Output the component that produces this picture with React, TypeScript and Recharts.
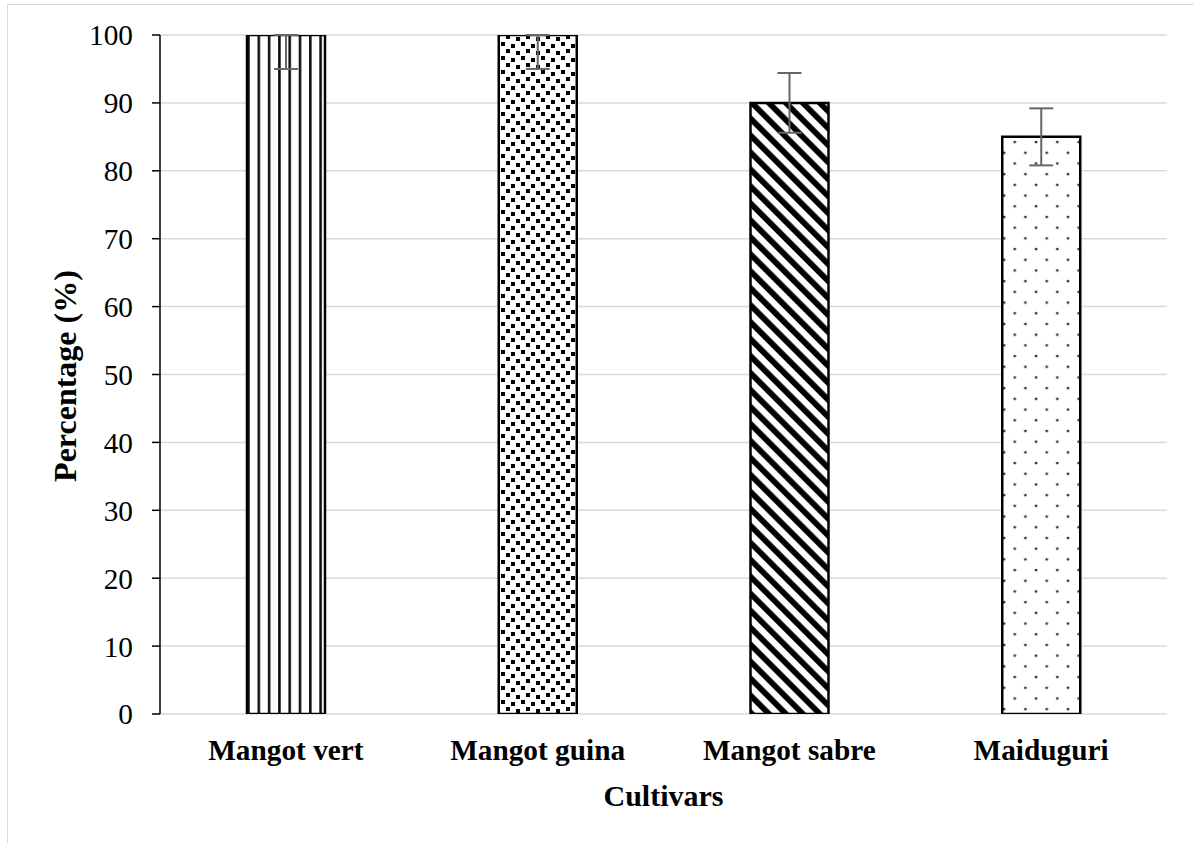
import React from 'react';
import { BarChart, Bar, XAxis, YAxis, CartesianGrid, ErrorBar, Cell } from 'recharts';

const cultivars = ['Mangot vert', 'Mangot guina', 'Mangot sabre', 'Maiduguri'];
const percentages = [100, 100, 90, 85];
const errLower = [5, 5, 4.4, 4.2];
const errUpper = [0, 0, 4.4, 4.2];
const yTicks = [0, 10, 20, 30, 40, 50, 60, 70, 80, 90, 100];
const patternIds = ['patVert', 'patGuina', 'patSabre', 'patMaid'];

const data = cultivars.map((name, i) => ({
  name,
  value: percentages[i],
  err: [errLower[i], errUpper[i]],
}));

const FONT = 'Liberation Serif, Times New Roman, Tinos, DejaVu Serif, serif';

const XTick = (props: any) => {
  const { x, payload } = props;
  return (
    <text x={x} y={760} textAnchor="middle" style={{ fontFamily: FONT }} fontWeight="bold" fontSize={29.3} fill="#000">
      {payload.value}
    </text>
  );
};

const confetti = [
  [1, 0], [11, 2], [6, 7], [16, 9],
];

export default function App() {
  return (
    <div style={{ position: 'fixed', left: 0, top: 0, width: 1194, height: 843, background: '#fff', overflow: 'hidden', fontFamily: FONT }}>
      <div
        style={{
          position: 'absolute', left: 7, top: 4, width: 1300, height: 900,
          borderLeft: '1.5px solid #d9d9d9', borderTop: '1.5px solid #d9d9d9',
        }}
      />
      <div style={{ position: 'absolute', left: 0, top: 0 }}>
        <BarChart
          width={1194}
          height={843}
          data={data}
          margin={{ top: 35, right: 27, bottom: 0, left: 60 }}
          style={{ fontFamily: FONT }}
        >
          <defs>
            <pattern id="patVert" patternUnits="userSpaceOnUse" width={10.3} height={10} x={0} y={0}>
              <rect x={0} y={0} width={10.3} height={10} fill="#fff" />
              <rect x={0} y={0} width={2.6} height={10} fill="#111" />
            </pattern>
            <pattern id="patGuina" patternUnits="userSpaceOnUse" width={20} height={14}>
              <rect x={0} y={0} width={20} height={14} fill="#fff" />
              {confetti.map(([cx, cy], i) => (
                <rect key={i} x={cx} y={cy} width={4} height={4} fill="#000" />
              ))}
            </pattern>
            <pattern id="patSabre" patternUnits="userSpaceOnUse" width={12} height={12} patternTransform="rotate(-45)">
              <rect x={0} y={0} width={12} height={12} fill="#fff" />
              <rect x={0} y={0} width={5.8} height={12} fill="#000" />
            </pattern>
            <pattern id="patMaid" patternUnits="userSpaceOnUse" width={21.3} height={21.4}>
              <rect x={0} y={0} width={21.3} height={21.4} fill="#fff" />
              <circle cx={3} cy={3} r={1.4} fill="#333" />
              <circle cx={13.65} cy={13.7} r={1.4} fill="#333" />
            </pattern>
          </defs>
          <CartesianGrid vertical={false} stroke="#d9d9d9" strokeWidth={1.5} />
          <XAxis
            dataKey="name"
            axisLine={false}
            tickLine={false}
            height={129}
            interval={0}
            tick={XTick}
            label={() => (
              <text x={663.5} y={806} textAnchor="middle" style={{ fontFamily: FONT }} fontWeight="bold" fontSize={30} fill="#000">
                Cultivars
              </text>
            )}
          />
          <YAxis
            domain={[0, 100]}
            ticks={yTicks}
            width={100}
            allowDataOverflow
            axisLine={{ stroke: '#000', strokeWidth: 1.5 }}
            tickLine={{ stroke: '#000', strokeWidth: 1.5 }}
            tickSize={8}
            tickMargin={19}
            tick={{ fill: '#000', fontSize: 29.3, style: { fontFamily: FONT } }}
            label={() => (
              <text
                x={76}
                y={376}
                transform="rotate(-90 76 376)"
                textAnchor="middle"
                style={{ fontFamily: FONT }}
                fontWeight="bold"
                fontSize={32}
                fill="#000"
              >
                Percentage (%)
              </text>
            )}
          />
          <Bar dataKey="value" barSize={78} stroke="#000" strokeWidth={2.5} isAnimationActive={false}>
            {data.map((d, i) => (
              <Cell key={d.name} fill={`url(#${patternIds[i]})`} />
            ))}
            <ErrorBar dataKey="err" width={12} stroke="#666" strokeWidth={2} isAnimationActive={false} />
          </Bar>
        </BarChart>
      </div>
    </div>
  );
}
